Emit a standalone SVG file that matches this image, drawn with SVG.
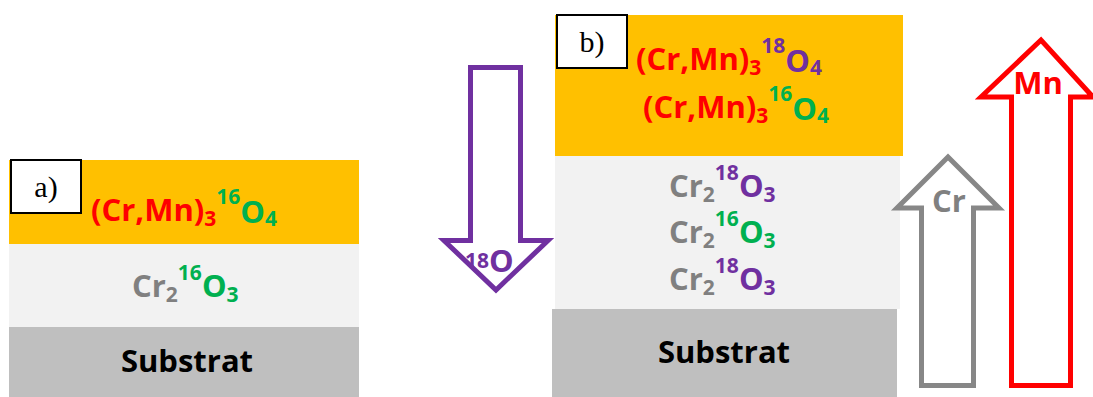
<svg xmlns="http://www.w3.org/2000/svg" width="1093" height="397" viewBox="0 0 1093 397">
<style>
.t{font-family:"Open Sans","Noto Sans",sans-serif;font-weight:bold;font-size:31px}
.s{font-size:21px}
.r{fill:#FF0000}.g{fill:#00B050}.p{fill:#7030A0}.k{fill:#808080}
.lbl{font-family:"Liberation Serif",serif;font-size:30px;fill:#000}
.box{fill:#fff;stroke:#000;stroke-width:2}
.arrow{fill:#fff;stroke-width:5;stroke-linejoin:miter}
</style>
<g id="panel-a">
<g id="a-oxide"><rect x="9" y="160" width="350" height="84" fill="#FFC000"/>
<text class="t" x="91" y="221"><tspan class="r">(Cr,Mn)</tspan><tspan class="r s" dy="5">3</tspan><tspan class="g s" dy="-22">16</tspan><tspan class="g" dy="19">O</tspan><tspan class="g s" dy="3">4</tspan></text></g>
<g id="a-cr2o3"><rect x="9" y="244" width="350" height="83" fill="#F2F2F2"/>
<text class="t" x="132" y="297"><tspan class="k">Cr</tspan><tspan class="k s" dy="5">2</tspan><tspan class="g s" dy="-22">16</tspan><tspan class="g" dy="17">O</tspan><tspan class="g s" dy="5">3</tspan></text></g>
<g id="a-substrat"><rect x="9" y="327" width="350" height="70" fill="#BFBFBF"/>
<text class="t" x="187" y="372" text-anchor="middle" fill="#000">Substrat</text></g>
<g id="a-label"><rect class="box" x="11" y="160" width="70" height="53"/>
<text class="lbl" x="46" y="197" text-anchor="middle">a)</text></g>
</g>
<g id="panel-b">
<g id="b-oxide"><rect x="555" y="15" width="348" height="141" fill="#FFC000"/>
<text class="t" x="636" y="70"><tspan class="r">(Cr,Mn)</tspan><tspan class="r s" dy="5">3</tspan><tspan class="p s" dy="-22">18</tspan><tspan class="p" dy="19">O</tspan><tspan class="p s" dy="3">4</tspan></text>
<text class="t" x="643" y="118"><tspan class="r">(Cr,Mn)</tspan><tspan class="r s" dy="5">3</tspan><tspan class="g s" dy="-22">16</tspan><tspan class="g" dy="19">O</tspan><tspan class="g s" dy="3">4</tspan></text></g>
<g id="b-cr2o3"><rect x="555" y="156" width="345" height="153" fill="#F2F2F2"/>
<text class="t" x="669" y="197"><tspan class="k">Cr</tspan><tspan class="k s" dy="5">2</tspan><tspan class="p s" dy="-22">18</tspan><tspan class="p" dy="17">O</tspan><tspan class="p s" dy="5">3</tspan></text>
<text class="t" x="669" y="243"><tspan class="k">Cr</tspan><tspan class="k s" dy="5">2</tspan><tspan class="g s" dy="-22">16</tspan><tspan class="g" dy="17">O</tspan><tspan class="g s" dy="5">3</tspan></text>
<text class="t" x="669" y="290"><tspan class="k">Cr</tspan><tspan class="k s" dy="5">2</tspan><tspan class="p s" dy="-22">18</tspan><tspan class="p" dy="17">O</tspan><tspan class="p s" dy="5">3</tspan></text></g>
<g id="b-substrat"><rect x="552" y="309" width="345" height="88" fill="#BFBFBF"/>
<text class="t" x="724" y="363" text-anchor="middle" fill="#000">Substrat</text></g>
<g id="b-label"><rect class="box" x="557" y="15" width="70" height="53"/>
<text class="lbl" x="592" y="52" text-anchor="middle">b)</text></g>
</g>
<g id="connectors">
<g id="arrow-18O"><path class="arrow" stroke="#7030A0" d="M470.5,67.5 H520.5 V240.5 H548 L496,290 L444,240.5 H470.5 Z"/>
<text class="t p" x="465" y="272"><tspan class="s" dy="-4">18</tspan><tspan dy="4">O</tspan></text></g>
<g id="arrow-Cr"><path class="arrow" stroke="#878787" d="M921.5,385.5 H973.5 V208 H999 L948,157 L897,208 H921.5 Z"/>
<text class="t k" x="949" y="212" text-anchor="middle">Cr</text></g>
<g id="arrow-Mn"><path class="arrow" stroke="#FF0000" d="M1011.5,385.5 H1070.5 V97 H1093 L1041,40 L981,97 H1011.5 Z"/>
<text class="t r" x="1038" y="94" text-anchor="middle">Mn</text></g>
</g>
</svg>
